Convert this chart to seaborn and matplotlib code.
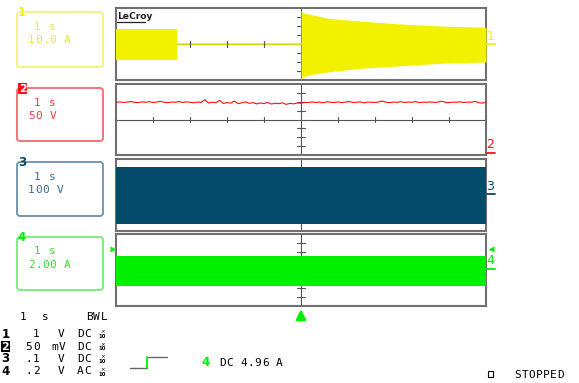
import numpy as np
import matplotlib
matplotlib.use("Agg")
import matplotlib.pyplot as plt
from matplotlib.patches import FancyBboxPatch, Rectangle
import seaborn as sns
import pandas as pd

# Channel 1 (current, A) : burst before switch-off, then decaying oscillation envelope
ch1_burst_t = [-5.0, -3.35]
ch1_burst_hi = [16.7, 16.7]
ch1_burst_lo = [-18.0, -18.0]
ch1_flat_t = [-3.35, 0.0]
ch1_flat_v = [0.0, 0.0]
ch1_decay_t = [0.0, 0.02, 0.25, 0.75, 1.6, 2.6, 3.75, 5.0]
ch1_decay_hi = [38.0, 35.0, 33.0, 28.5, 25.5, 22.5, 20.0, 18.6]
ch1_decay_lo = [-40.0, -37.0, -34.0, -31.0, -27.0, -24.5, -21.5, -20.0]

# Channel 2 (voltage, V) : noisy trace, one value per 0.1 s from -5 to 5
ch2_t = [round(-5.0 + 0.1 * i, 1) for i in range(101)]
ch2_v = [97, 99, 96, 98, 101, 97, 95, 99, 97, 100,
         96, 98, 103, 97, 95, 98, 97, 101, 96, 99,
         97, 94, 98, 96, 112, 93, 97, 95, 108, 90,
         96, 92, 104, 89, 94, 99, 91, 95, 88, 93,
         90, 96, 87, 92, 89, 94, 85, 91, 88, 93,
         92, 97, 95, 99, 96, 98, 94, 100, 97, 96,
         99, 95, 98, 101, 96, 97, 99, 94, 98, 97,
         96, 99, 104, 97, 95, 98, 97, 100, 96, 98,
         97, 101, 95, 98, 97, 99, 96, 98, 103, 97,
         95, 98, 97, 100, 96, 98, 97, 102, 96, 92, 99]

# Channel 3 (voltage, V) : dense switching waveform envelope
ch3_t = [-5.0, -2.92, -2.92, 5.0]
ch3_hi = [308, 308, 313, 313]
ch3_lo = [-322, -322, -324, -324]

# Channel 4 (current, A) : dense waveform envelope
ch4_t = [-5.0, -2.92, -2.92, 5.0]
ch4_hi = [3.05, 3.05, 3.15, 3.15]
ch4_lo = [-3.45, -3.45, -3.55, -3.55]

volts_per_div = [10.0, 50.0, 100.0, 2.0]
box_scale = ["10.0 A", "50 V", "100 V", "2.00 A"]
timebase = "1 s"

# ---------------- style ----------------
W, H = 579, 383
YEL, RED, TEAL, GRN = "#f2f200", "#ff1010", "#044a6a", "#00f000"
FRAME = "#707070"
XH = "#555555"

sns.set_theme(style="white")
plt.rcParams["font.family"] = ["DejaVu Sans"]

fig = plt.figure(figsize=(W / 100, H / 100), dpi=100)
fig.patch.set_facecolor("white")


def px_axes(x0, y0, x1, y1):
    return fig.add_axes([x0 / W, 1 - y1 / H, (x1 - x0) / W, (y1 - y0) / H])


panel_px = [(116, 8, 486, 80), (116, 84, 486, 155), (116, 159, 486, 231), (116, 234, 486, 306)]
axes = []
for (x0, y0, x1, y1), vpd in zip(panel_px, volts_per_div):
    ax = px_axes(x0, y0, x1, y1)
    ax.set_xlim(-5, 5)
    ax.set_ylim(-4 * vpd, 4 * vpd)
    ax.set_xticks([]); ax.set_yticks([])
    ax.set_facecolor("white")
    for s in ax.spines.values():
        s.set_color(FRAME); s.set_linewidth(1.5); s.set_visible(True)
    # crosshair with minor ticks
    ax.axhline(0, color=XH, lw=0.8, zorder=1)
    ax.axvline(0, color=XH, lw=0.8, zorder=1)
    for k in [-4, -3, -2, -1, 1, 2, 3, 4]:
        ax.plot([k, k], [-0.33 * vpd, 0.33 * vpd], color=XH, lw=0.8, zorder=1)
    for k in [-3, -2, -1, 1, 2, 3]:
        ax.plot([-0.11, 0.11], [k * vpd, k * vpd], color=XH, lw=0.8, zorder=1)
    axes.append(ax)

# Channel 1
a1 = axes[0]
a1.fill_between(ch1_burst_t, ch1_burst_lo, ch1_burst_hi, color=YEL, lw=0, zorder=3)
sns.lineplot(x=ch1_flat_t, y=ch1_flat_v, ax=a1, color=YEL, lw=1.2, zorder=3)
a1.fill_between(ch1_decay_t, ch1_decay_lo, ch1_decay_hi, color=YEL, lw=0, zorder=3)
for k in [-3, -2, -1]:
    a1.plot([k, k], [-0.33 * 10, 0.33 * 10], color=XH, lw=0.8, zorder=4)

# Channel 2
a2 = axes[1]
df2 = pd.DataFrame({"t": ch2_t, "v": ch2_v})
sns.lineplot(data=df2, x="t", y="v", ax=a2, color=RED, lw=0.8, zorder=3)

# Channel 3
a3 = axes[2]
a3.fill_between(ch3_t, ch3_lo, ch3_hi, color=TEAL, lw=0, zorder=3)

# Channel 4
a4 = axes[3]
a4.fill_between(ch4_t, ch4_lo, ch4_hi, color=GRN, lw=0, zorder=3)

for ax in axes:
    ax.set_xlabel(""); ax.set_ylabel("")
    ax.set_xlim(-5, 5)

# ---------------- overlay for annotations (pixel coordinates) ----------------
ov = fig.add_axes([0, 0, 1, 1], zorder=10)
ov.set_xlim(0, W); ov.set_ylim(H, 0); ov.axis("off")
ov.patch.set_alpha(0)


def mono(x, y, s, color="black", pitch=7.4, size=8, weight="normal"):
    for i, ch in enumerate(s):
        if ch != " ":
            ov.text(x + i * pitch + pitch / 2, y, ch, ha="center", va="center",
                    fontsize=size, color=color, fontweight=weight,
                    family="DejaVu Sans Mono")


# LeCroy logo
ov.text(117, 16.5, "LeCroy", ha="left", va="center", fontsize=6.6, fontweight="bold", color="#222222")
ov.plot([117, 145], [22.3, 22.3], color="#222222", lw=0.9)

# channel boxes on the left
boxes = [(12, 67, "#f2f27a", "#e6e64a", YEL),
         (88, 141, "#f06a6a", "#ee4040", RED),
         (162, 216, "#6a92ad", "#3e6e8e", TEAL),
         (237, 290, "#70ee70", "#35dd35", GRN)]
for i, (y0, y1, bc, tc, lc) in enumerate(boxes):
    ov.add_patch(FancyBboxPatch((17, y0), 86, y1 - y0,
                                boxstyle="round,pad=0,rounding_size=3",
                                fc="none", ec=bc, lw=1.3))
    mono(33.7, y0 + 14.5, timebase, color=tc, pitch=7.6)
    mono(27.5, y0 + 28, box_scale[i], color=tc, pitch=7.3)
    if i == 1:
        ov.text(22.5, y0 + 0.5, "2", ha="center", va="center", fontsize=8, fontweight="bold",
                color="white", bbox=dict(boxstyle="square,pad=0.05", fc=RED, ec="none"))
    else:
        ov.text(22, y0 + 0.5, str(i + 1), ha="center", va="center", fontsize=8.5,
                fontweight="bold", color=lc)

# right side channel markers
right_lbl = [(36.5, 44.0, YEL), (145, 152.7, RED), (186.5, 193.5, TEAL), (260.5, 268.7, GRN)]
for i, (yl, yu, c) in enumerate(right_lbl):
    ov.text(490.5, yl, str(i + 1), ha="center", va="center", fontsize=9, color=c)
    ov.plot([486.5, 495], [yu, yu], color=c, lw=1.3)

# trigger level markers for channel 4
ov.plot([113], [248.7], marker=">", color=GRN, ms=4.5, mec="none")
ov.plot([490.5], [248.7], marker="<", color=GRN, ms=4.5, mec="none")

# trigger position arrow
ov.annotate("", xy=(301, 306.5), xytext=(301, 320),
            arrowprops=dict(arrowstyle="-|>,head_width=0.25,head_length=0.5", color=GRN, lw=1.6))

# bottom status text
mono(19.3, 316.5, "1")
mono(41.3, 316.5, "s")
mono(86.5, 316.5, "BWL", pitch=6.9)

rows = [(334.0, "1", "1", "V", "DC"), (346.5, "2", "50", "mV", "DC"),
        (359.0, "3", ".1", "V", "DC"), (371.5, "4", ".2", "V", "AC")]
for y, ch, val, unit, cpl in rows:
    if ch == "2":
        ov.text(5.5, y, ch, ha="center", va="center", fontsize=8, fontweight="bold", color="white",
                bbox=dict(boxstyle="square,pad=0.05", fc="black", ec="none"))
    else:
        ov.text(5.5, y, ch, ha="center", va="center", fontsize=8.5, fontweight="bold", color="black")
    mono(40 - len(val) * 7.4, y, val)
    mono(65 - len(unit) * 7.4 + (0 if unit == "V" else 1), y, unit)
    mono(77, y, cpl, pitch=6.8)
    ov.text(102.5, y - 2.3, "×", ha="center", va="center", fontsize=4, color="black")
    ov.text(102.5, y + 2.5, "10", ha="center", va="center", fontsize=3.8, color="black", fontweight="bold")

# trigger coupling symbol
ov.plot([130, 147], [368, 368], color="#666666", lw=1.0)
ov.plot([147, 147], [368, 356.5], color=GRN, lw=1.3)
ov.plot([148, 167], [356.5, 356.5], color="#666666", lw=1.0)
ov.text(206, 363, "4", ha="center", va="center", fontsize=8.5, fontweight="bold", color=GRN)
mono(219, 363, "DC 4.96 A", pitch=7.1)

# stopped indicator
ov.add_patch(Rectangle((487.5, 370.5), 5.5, 6.5, fc="none", ec="black", lw=0.8))
mono(514, 375.5, "STOPPED", pitch=7.2)

fig.savefig("out.png", dpi=100, facecolor="white")
